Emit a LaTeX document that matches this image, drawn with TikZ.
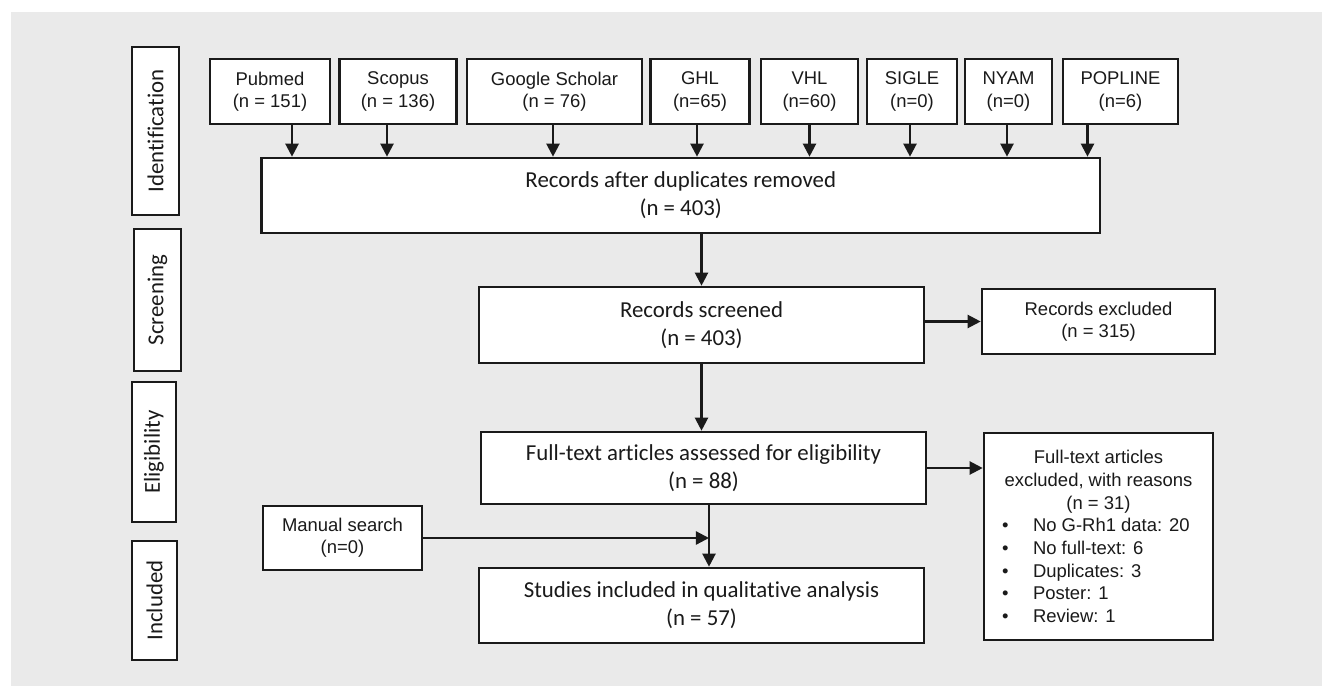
\documentclass[tikz,border=0pt]{standalone}
\usepackage{fontspec}
\setmainfont{Carlito}[Ligatures=NoCommon]
\newfontfamily\arialfont{Liberation Sans}
\usetikzlibrary{arrows.meta}

\definecolor{panel}{HTML}{EAEAEA}
\definecolor{ink}{HTML}{1A1A1A}

\tikzset{
    box/.style={draw=ink, line width=1.5pt, fill=white, inner sep=0pt, text=ink},
    size/.style 2 args={minimum width=#1*0.02cm, minimum height=#2*0.02cm},
    small/.style={box, font=\arialfont\fontsize{10.5}{12.6}\selectfont, align=center},
    big/.style={box, font=\fontsize{13}{16}\selectfont, align=center},
    phase/.style={box, font=\fontsize{13}{16}\selectfont, rotate=90},
    arr/.style={draw=ink, line width=1.3pt, -{Triangle[length=7.5pt,width=7.5pt]}}
}
\newcommand{\reason}[1]{\makebox[3.86cm][l]{\makebox[0.62cm][l]{\textbullet}#1}}

\begin{document}
\begin{tikzpicture}[x=0.02cm, y=-0.02cm]
    % Background
    \useasboundingbox (0,0) rectangle (1322,686);
    \fill[panel] (11,12) rectangle (1322,686);

    % Phases
    \foreach \name/\cx/\cy/\w/\h/\label in {ident/155.5/131/47/168/Identification,
        screen/157.5/300/47/142/Screening, elig/154/452/44/140/Eligibility,
        incl/154.5/600.5/45/119/Included}
        \node[phase, size={\h}{\w}] (\name) at (\cx,\cy) {\label};

    % Main flow
    \node[big, size={838.5}{75}] (dup) at (680.75,195.5) {Records after duplicates removed\\(n = 403)};
    \node[big, size={445}{76}] (screened) at (701.5,325) {Records screened\\(n = 403)};
    \node[small, size={233}{65}] (excluded) at (1098.5,321.5) {Records excluded\\(n = 315)};
    \node[big, size={445}{72}] (fulltext) at (703.5,468) {Full-text articles assessed for eligibility\\(n = 88)};
    \node[small, size={229}{207}, font=\arialfont\fontsize{10.5}{12.9}\selectfont] (reasons) at (1098.5,536.5)
        {Full-text articles\\excluded, with reasons\\(n = 31)\\\reason{No G-Rh1 data: 20}\\\reason{No full-text: 6}\\
         \reason{Duplicates: 3}\\\reason{Poster: 1}\\\reason{Review: 1}};
    \node[small, size={159}{64}] (manual) at (342.5,538) {Manual search\\(n=0)};
    \node[big, size={445}{75}] (studies) at (701.5,605.5) {Studies included in qualitative analysis\\(n = 57)};

    % Sources
    \foreach \name/\cx/\w/\label/\cnt/\dx in {pubmed/270/120/Pubmed/{(n = 151)}/22,
        scopus/398/117/Scopus/{(n = 136)}/-11, scholar/554.5/175/Google Scholar/{(n = 76)}/-1.5,
        ghl/700/99/GHL/{(n=65)}/-3, vhl/809.5/97/VHL/{(n=60)}/0, sigle/912/90/SIGLE/{(n=0)}/-2,
        nyam/1008.5/87/NYAM/{(n=0)}/-1.5, popline/1120.5/115/POPLINE/{(n=6)}/-33} {
        \node[small, size={\w}{65}] (\name) at (\cx,91.5) {\label\\\cnt};
        \coordinate (\name-out) at ([xshift=\dx*0.02cm]\name.south);
        \draw[arr] (\name-out) -- (\name-out |- dup.north);
    }

    % Connectors
    \coordinate (join) at (709,538);
    \draw[arr] (screened.north |- dup.south) -- (screened.north);
    \draw[arr] (screened.south) -- (screened.south |- fulltext.north);
    \draw[arr] (screened.east |- excluded.west) -- (excluded.west);
    \draw[arr] (fulltext.east) -- (fulltext.east -| reasons.west);
    \draw[arr] (fulltext.south -| join) -- (studies.north -| join);
    \draw[arr] (manual.east) -- (join);
\end{tikzpicture}
\end{document}
